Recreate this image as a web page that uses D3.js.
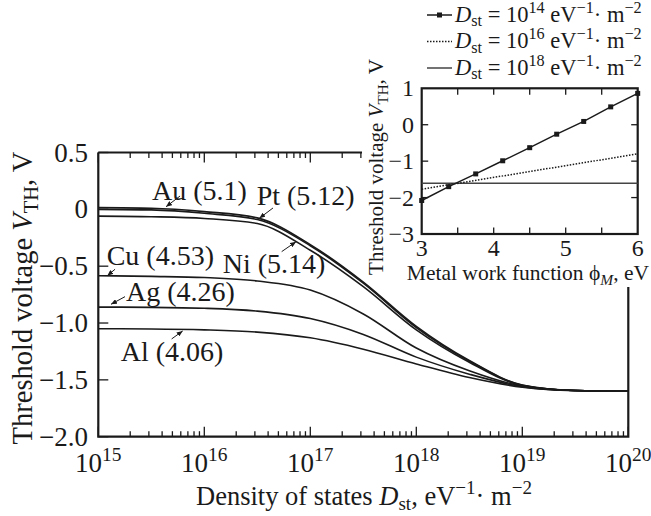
<!DOCTYPE html>
<html>
<head>
<meta charset="utf-8">
<script src="https://cdn.jsdelivr.net/npm/d3@7"></script>
<style>
body { margin: 0; background: #fff; }
svg text { font-family: "Liberation Serif", "Times New Roman", serif; fill: #1a1a1a; }
</style>
</head>
<body>
<svg width="651" height="516"></svg>
<script>
// main plot: threshold voltage vs log10 of density of states
var logD = [15, 15.5, 16, 16.5, 17, 17.5, 18, 18.5, 19, 19.5, 20];
var vAu = [0.015, 0.01, -0.02, -0.075, -0.31, -0.64, -1.03, -1.33, -1.545, -1.594, -1.6];
var vPt = [0.0, -0.005, -0.035, -0.09, -0.32, -0.65, -1.04, -1.335, -1.547, -1.594, -1.6];
var vNi = [-0.06, -0.065, -0.08, -0.125, -0.36, -0.68, -1.06, -1.345, -1.55, -1.594, -1.6];
var vCu = [-0.584, -0.59, -0.6, -0.63, -0.71, -0.92, -1.22, -1.42, -1.555, -1.594, -1.6];
var vAg = [-0.86, -0.862, -0.87, -0.895, -0.96, -1.1, -1.3, -1.45, -1.56, -1.594, -1.6];
var vAl = [-1.05, -1.052, -1.06, -1.08, -1.13, -1.23, -1.36, -1.48, -1.565, -1.595, -1.6];
var metals = ["Au (5.1)", "Pt (5.12)", "Ni (5.14)", "Cu (4.53)", "Ag (4.26)", "Al (4.06)"];
var yTicks = [0.5, 0, -0.5, -1, -1.5, -2];
var decades = [15, 16, 17, 18, 19, 20];

// inset: threshold voltage vs metal work function
var phiMarks = [3, 3.375, 3.75, 4.125, 4.5, 4.875, 5.25, 5.625, 6];
var v14 = [-2.08, -1.7, -1.35, -0.99, -0.63, -0.26, 0.09, 0.49, 0.86];
var phiEnds = [3, 6];
var v16 = [-1.77, -0.8];
var v18 = [-1.61, -1.61];
var insetXTicks = [3, 4, 5, 6];
var insetYTicks = [1, 0, -1, -2, -3];
var legendExp = ["14", "16", "18"];

// label + arrow placement, in data units (log10 D, volts)
var notes = [
    {tx: 15.507, ty: 0.082, from: [15.771, 0.117], to: [15.639, 0.023]},
    {tx: 16.494, ty: 0.038, from: [16.648, 0.012], to: [16.519, -0.079]},
    {tx: 16.174, ty: -0.56, from: [16.73, -0.372], to: [16.865, -0.285]},
    {tx: 15.079, ty: -0.489, from: [15.158, -0.527], to: [15.085, -0.584]},
    {tx: 15.261, ty: -0.806, from: [15.252, -0.768], to: [15.12, -0.835]},
    {tx: 15.211, ty: -1.334, from: [15.692, -1.14], to: [15.796, -1.07]}
];

var svg = d3.select("svg");

// small helper for sub/superscripts
function rich(t, parts, size) {
    var prev = 0;
    parts.forEach(function(p) {
        var s = t.append("tspan").text(p.t);
        if (p.i) s.attr("font-style", "italic");
        if (p.sub || p.sup) s.attr("font-size", size * 0.72);
        var shift = p.sup ? -size * 0.4 : (p.sub ? size * 0.22 : 0);
        s.attr("dy", shift - prev);
        prev = shift;
    });
}

svg.append("defs").append("marker")
    .attr("id", "arr")
    .attr("markerUnits", "userSpaceOnUse")
    .attr("markerWidth", 7).attr("markerHeight", 5)
    .attr("refX", 6).attr("refY", 2.5)
    .attr("orient", "auto")
    .append("path").attr("d", "M0,0L6,2.5L0,5Z").attr("fill", "#1a1a1a");

var x = d3.scaleLog().domain([1e15, 1e20]).range([98.3, 628.3]),
    y = d3.scaleLinear().domain([-2, 0.5]).range([436.7, 152.5]);
function xe(e) { return x(Math.pow(10, e)); }

var g = svg.append("g");

// frame (top and right edges are partly hidden behind the inset)
var frameCut = 362;
g.append("path")
    .attr("d", "M" + x(1e15) + "," + y(0.5) + "V" + y(-2) + "H" + x(1e20) + "V287"
        + "M" + x(1e15) + "," + y(0.5) + "H" + frameCut)
    .attr("fill", "none").attr("stroke", "#1a1a1a").attr("stroke-width", 2.2);

// log ticks
var xt = [];
decades.forEach(function(d) {
    for (var k = 1; k <= 9; k++) {
        if (d === 20 && k > 1) break;
        xt.push({v: k * Math.pow(10, d), major: k === 1});
    }
});
g.selectAll(".xtb").data(xt).enter().append("line")
    .attr("x1", function(d) { return x(d.v); })
    .attr("x2", function(d) { return x(d.v); })
    .attr("y1", y(-2))
    .attr("y2", function(d) { return y(-2) - (d.major ? 10 : 5.5); })
    .attr("stroke", "#1a1a1a").attr("stroke-width", 1.3);
g.selectAll(".xtt").data(xt.filter(function(d) { return x(d.v) < frameCut; })).enter().append("line")
    .attr("x1", function(d) { return x(d.v); })
    .attr("x2", function(d) { return x(d.v); })
    .attr("y1", y(0.5))
    .attr("y2", function(d) { return y(0.5) + (d.major ? 10 : 5.5); })
    .attr("stroke", "#1a1a1a").attr("stroke-width", 1.3);

g.selectAll(".yt").data(yTicks).enter().append("line")
    .attr("x1", x(1e15)).attr("x2", x(1e15) + 10)
    .attr("y1", function(d) { return y(d); })
    .attr("y2", function(d) { return y(d); })
    .attr("stroke", "#1a1a1a").attr("stroke-width", 1.3);

// tick labels
g.selectAll(".xl").data(decades).enter().append("text")
    .attr("x", function(d) { return xe(d); })
    .attr("y", 471.7)
    .attr("text-anchor", "middle")
    .attr("font-size", 27)
    .each(function(d) {
        rich(d3.select(this), [{t: "10"}, {t: String(d), sup: true}], 27);
    });

g.selectAll(".yl").data(yTicks).enter().append("text")
    .attr("x", 88)
    .attr("y", function(d) { return y(d) + 9; })
    .attr("text-anchor", "end")
    .attr("font-size", 27)
    .text(function(d) { return d === 0 ? "0" : d3.format(".1f")(d); });

// axis titles
rich(g.append("text").attr("x", 364).attr("y", 504.5).attr("text-anchor", "middle").attr("font-size", 26.5),
    [{t: "Density of states "}, {t: "D", i: true}, {t: "st", sub: true}, {t: ", eV"},
     {t: "\u22121", sup: true}, {t: "\u00b7 m"}, {t: "\u22122", sup: true}], 26.5);

rich(g.append("text").attr("transform", "translate(32,298) rotate(-90)")
        .attr("text-anchor", "middle").attr("font-size", 28.5),
    [{t: "Threshold voltage "}, {t: "V", i: true}, {t: "TH", sub: true}, {t: ", V"}], 28.5);

// curves
var series = [vAu, vPt, vNi, vCu, vAg, vAl];
var line = d3.line()
    .x(function(d, i) { return xe(logD[i]); })
    .y(function(d) { return y(d); })
    .curve(d3.curveMonotoneX);
g.selectAll(".curve").data(series).enter().append("path")
    .attr("class", "curve")
    .attr("d", line)
    .attr("fill", "none").attr("stroke", "#1a1a1a").attr("stroke-width", 1.6);

// annotations
notes.forEach(function(n, i) {
    g.append("text")
        .attr("x", xe(n.tx)).attr("y", y(n.ty))
        .attr("font-size", 28)
        .text(metals[i]);
    g.append("line")
        .attr("x1", xe(n.from[0])).attr("y1", y(n.from[1]))
        .attr("x2", xe(n.to[0])).attr("y2", y(n.to[1]))
        .attr("stroke", "#1a1a1a").attr("stroke-width", 1)
        .attr("marker-end", "url(#arr)");
});

// ---- inset ----
var ix = d3.scaleLinear().domain([3, 6]).range([421.7, 637.7]),
    iy = d3.scaleLinear().domain([-3, 1]).range([234, 88.3]);
var ins = svg.append("g");

ins.append("rect")
    .attr("x", ix(3)).attr("y", iy(1))
    .attr("width", ix(6) - ix(3)).attr("height", iy(-3) - iy(1))
    .attr("fill", "none").attr("stroke", "#1a1a1a").attr("stroke-width", 2.2);

var ixt = d3.range(3.5, 6, 0.5);
ixt.forEach(function(v) {
    ins.append("line").attr("x1", ix(v)).attr("x2", ix(v))
        .attr("y1", iy(-3)).attr("y2", iy(-3) - 6.5)
        .attr("stroke", "#1a1a1a").attr("stroke-width", 1.3);
    ins.append("line").attr("x1", ix(v)).attr("x2", ix(v))
        .attr("y1", iy(1)).attr("y2", iy(1) + 6.5)
        .attr("stroke", "#1a1a1a").attr("stroke-width", 1.3);
});
insetYTicks.slice(1, -1).forEach(function(v) {
    ins.append("line").attr("x1", ix(3)).attr("x2", ix(3) + 6.5)
        .attr("y1", iy(v)).attr("y2", iy(v))
        .attr("stroke", "#1a1a1a").attr("stroke-width", 1.3);
    ins.append("line").attr("x1", ix(6)).attr("x2", ix(6) - 6.5)
        .attr("y1", iy(v)).attr("y2", iy(v))
        .attr("stroke", "#1a1a1a").attr("stroke-width", 1.3);
});

ins.selectAll(".ixl").data(insetXTicks).enter().append("text")
    .attr("x", function(d) { return ix(d); })
    .attr("y", 256)
    .attr("text-anchor", "middle").attr("font-size", 24)
    .text(function(d) { return d; });
ins.selectAll(".iyl").data(insetYTicks).enter().append("text")
    .attr("x", 414)
    .attr("y", function(d) { return iy(d) + 8; })
    .attr("text-anchor", "end").attr("font-size", 24)
    .text(function(d) { return d3.format("d")(d); });

rich(ins.append("text").attr("x", 649).attr("y", 280).attr("text-anchor", "end").attr("font-size", 21.5),
    [{t: "Metal work function \u03d5"}, {t: "M", sub: true, i: true}, {t: ", eV"}], 21.5);
rich(ins.append("text").attr("transform", "translate(383,167) rotate(-90)")
        .attr("text-anchor", "middle").attr("font-size", 21),
    [{t: "Threshold voltage "}, {t: "V", i: true}, {t: "TH", sub: true}, {t: ", V"}], 21);

var iline = d3.line()
    .x(function(d) { return ix(d[0]); })
    .y(function(d) { return iy(d[1]); });
ins.append("path")
    .attr("d", iline(d3.zip(phiEnds, v18)))
    .attr("fill", "none").attr("stroke", "#444").attr("stroke-width", 1.5);
ins.append("path")
    .attr("d", iline(d3.zip(phiEnds, v16)))
    .attr("fill", "none").attr("stroke", "#1a1a1a").attr("stroke-width", 1.5)
    .attr("stroke-dasharray", "1.5,1.5");
ins.append("path")
    .attr("d", iline(d3.zip(phiMarks, v14)))
    .attr("fill", "none").attr("stroke", "#1a1a1a").attr("stroke-width", 1.5);
ins.selectAll(".mk").data(d3.zip(phiMarks, v14)).enter().append("rect")
    .attr("x", function(d) { return ix(d[0]) - 2.5; })
    .attr("y", function(d) { return iy(d[1]) - 2.5; })
    .attr("width", 5).attr("height", 5)
    .attr("fill", "#1a1a1a");

// legend
var legY = [15, 41.5, 68];
legendExp.forEach(function(e, i) {
    var ly = legY[i];
    var l = ins.append("line").attr("x1", 427).attr("x2", 452).attr("y1", ly).attr("y2", ly)
        .attr("stroke", i === 2 ? "#444" : "#1a1a1a").attr("stroke-width", 1.5);
    if (i === 1) l.attr("stroke-dasharray", "1.5,1.5");
    if (i === 0) ins.append("rect").attr("x", 437).attr("y", ly - 2.5).attr("width", 5).attr("height", 5).attr("fill", "#1a1a1a");
    rich(ins.append("text").attr("x", 455).attr("y", ly + 6.5).attr("font-size", 22.5),
        [{t: "D", i: true}, {t: "st", sub: true}, {t: " = 10"}, {t: e, sup: true}, {t: " eV"},
         {t: "\u22121", sup: true}, {t: "\u00b7 m"}, {t: "\u22122", sup: true}], 22.5);
});
</script>
</body>
</html>
